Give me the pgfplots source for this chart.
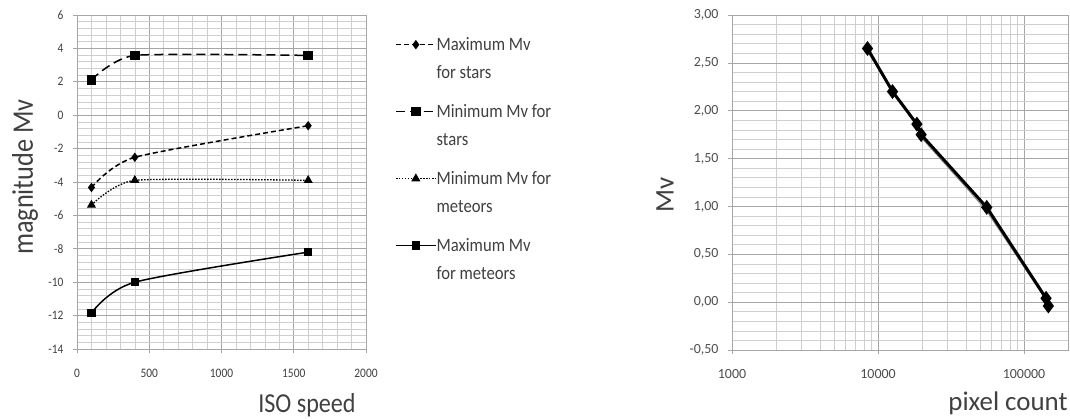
\documentclass[border=0pt]{standalone}
\usepackage{fontspec}
\setmainfont{Carlito}
\newfontfamily\narrow[FakeStretch=0.88]{Carlito}
\usepackage{pgfplots}
\pgfplotsset{compat=1.18}

\definecolor{txt}{HTML}{404040}
\definecolor{txtb}{HTML}{4D4D4D}
\definecolor{gmaj}{HTML}{A6A6A6}
\definecolor{gmin}{HTML}{CFCFCF}

\pgfplotsset{
  excelgrid/.style={
    scale only axis, anchor=south west,
    grid=both,
    major grid style={draw=gmaj, line width=0.7bp},
    minor grid style={draw=gmin, line width=0.6bp},
    axis line style={draw=gmaj},
    tick style={draw=gmaj, line width=0.7bp},
    major tick length=4bp, minor tick length=0pt,
    tick align=outside, tick pos=left,
    /pgf/number format/assume math mode=true,
    /pgf/number format/1000 sep={},
    ticklabel style={text=txt},
  },
}

\begin{document}
\begin{tikzpicture}
\useasboundingbox (0,0) rectangle (1070bp,419bp);

% left chart: magnitude vs ISO speed
\begin{axis}[excelgrid,
  at={(77bp,70bp)}, width=289bp, height=334bp,
  xmin=0, xmax=2000, ymin=-14, ymax=6,
  xtick={0,500,1000,1500,2000}, ytick={-14,-12,-10,-8,-6,-4,-2,0,2,4,6},
  minor x tick num=4, minor y tick num=4,
  ticklabel style={font=\narrow\fontsize{13}{15}\selectfont},
  xticklabel style={yshift=-13bp},
  yticklabel style={xshift=-6bp},
  legend style={at={(1.1,0.935)}, anchor=north west, draw=none, fill=none,
    font=\narrow\fontsize{19}{23}\selectfont, text=txt,
    row sep=0pt, inner sep=0pt,
    nodes={inner sep=0pt, text height=14bp, text depth=13.5bp},
    every even column/.style={column sep=2bp}},
  legend cell align=left,
  legend image code/.code={\draw[mark repeat=2,mark phase=2] plot coordinates {(0bp,6bp)(20bp,6bp)(40bp,6bp)};},
]
\addplot[black, line width=1.5bp, dash pattern=on 5bp off 3bp, smooth, tension=0.4,
  mark=diamond*, mark size=3.5bp, mark options={solid}]
  coordinates {(100,-4.33) (400,-2.52) (1600,-0.63)};
\addlegendentry{Maximum Mv}
\addlegendimage{empty legend}
\addlegendentry[text depth=25.5bp]{for stars}
\addplot[black, line width=1.5bp, dash pattern=on 9bp off 5bp, smooth, tension=0.35,
  mark=square*, mark size=4bp, mark options={solid}]
  coordinates {(100,2.12) (400,3.58) (1600,3.58)};
\addlegendentry{Minimum Mv for}
\addlegendimage{empty legend}
\addlegendentry[text depth=25.5bp]{stars}
\addplot[black, line width=1.3bp, dash pattern=on 1.5bp off 1.5bp, smooth, tension=0.35,
  mark=triangle*, mark size=4bp, mark options={solid}]
  coordinates {(100,-5.38) (400,-3.9) (1600,-3.9)};
\addlegendentry{Minimum Mv for}
\addlegendimage{empty legend}
\addlegendentry[text depth=25.5bp]{meteors}
\addplot[black, line width=1.5bp, smooth, tension=0.45,
  mark=square*, mark size=3.5bp]
  coordinates {(100,-11.85) (400,-10) (1600,-8.2)};
\addlegendentry{Maximum Mv}
\addlegendimage{empty legend}
\addlegendentry[text depth=25.5bp]{for meteors}
\end{axis}

% right chart: Mv vs pixel count
\begin{axis}[excelgrid,
  at={(732bp,69bp)}, width=336bp, height=335bp,
  xmode=log, xmin=1000, xmax=200000, ymin=-0.5, ymax=3,
  xtick={1000,10000,100000}, xticklabels={1000,10000,100000},
  minor xtick={2000,3000,4000,5000,6000,7000,8000,9000,20000,30000,40000,50000,60000,70000,80000,90000,200000},
  ytick={-0.5,0,0.5,1,1.5,2,2.5,3}, minor y tick num=4,
  ticklabel style={font=\fontsize{14}{16}\selectfont, text=txtb},
  xticklabel style={yshift=-12bp},
  yticklabel style={xshift=-6bp, /pgf/number format/.cd, fixed, fixed zerofill, precision=2, use comma},
]
\addplot[gray, line width=0.8bp]
  coordinates {(8470,2.62) (12570,2.19) (18450,1.84) (19740,1.72) (41600,1.17) (55540,0.95) (141500,0.02) (146700,-0.05)};
\addplot[black, line width=3bp, mark=diamond*, mark size=5bp]
  coordinates {(8470,2.65) (12570,2.20) (18450,1.86) (19740,1.75) (55540,0.99) (141500,0.04) (146700,-0.04)};
\end{axis}

\node[font=\narrow\fontsize{27.5}{30}\selectfont, text=txt] at (307bp,14bp) {ISO speed};
\node[font=\narrow\fontsize{30}{32}\selectfont, text=txt, rotate=90] at (25bp,242bp) {magnitude Mv};
\node[font=\fontsize{27}{30}\selectfont, text=txt, rotate=90] at (665bp,224bp) {Mv};
\node[font=\fontsize{27}{30}\selectfont, text=txt] at (1008bp,16bp) {pixel count};
\end{tikzpicture}
\end{document}
